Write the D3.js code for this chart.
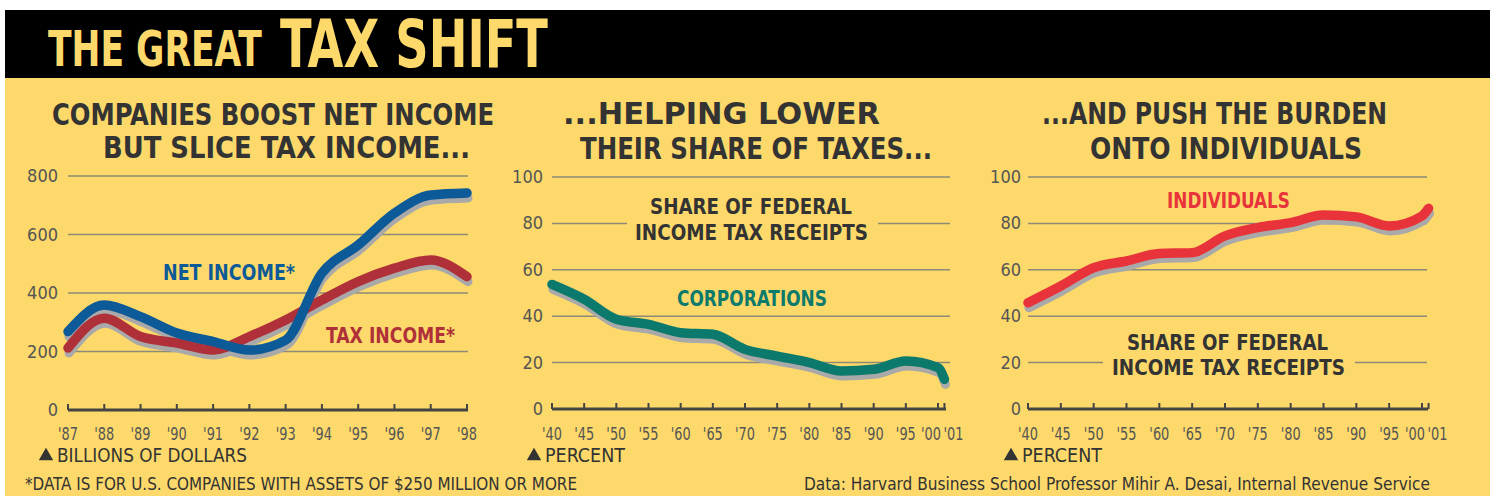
<!DOCTYPE html>
<html>
<head>
<meta charset="utf-8">
<script src="https://cdn.jsdelivr.net/npm/d3@7"></script>
<style>
  body { margin: 0; background: #fff; }
  svg { display: block; }
  text { font-family: "Liberation Sans Narrow", "DejaVu Sans Condensed", sans-serif; }
</style>
</head>
<body>
<svg id="chart" width="1490" height="498"></svg>
<script>
// --- data ---
var yearsA = [1987, 1988, 1989, 1990, 1991, 1992, 1993, 1994, 1995, 1996, 1997, 1998];
var netIncome = [268, 359, 319, 263, 234, 205, 239, 468, 564, 673, 735, 742];
var taxIncome = [212, 314, 251, 229, 205, 251, 308, 376, 439, 485, 513, 456];

var yearsB = [1940, 1945, 1950, 1955, 1960, 1965, 1970, 1975, 1980, 1985, 1990, 1995, 2000, 2001];
var corporations = [53.7, 47.3, 38.7, 36.5, 32.9, 32.2, 25.7, 22.8, 20.0, 16.4, 17.1, 20.7, 17.8, 12.8];
var individuals = [45.8, 53.0, 60.9, 63.8, 67.0, 67.4, 74.6, 78.2, 80.3, 83.6, 82.8, 78.9, 83.2, 86.5];

var yTicksA = [0, 200, 400, 600, 800];
var yTicksB = [0, 20, 40, 60, 80, 100];
var tickLabelsA = ["'87", "'88", "'89", "'90", "'91", "'92", "'93", "'94", "'95", "'96", "'97", "'98"];
var tickLabelsB = ["'40", "'45", "'50", "'55", "'60", "'65", "'70", "'75", "'80", "'85", "'90", "'95", "'00", "'01"];

var yellow = "#fcd96a", ink = "#333", gridCol = "#8c8a78", shadow = "#a9a9a9";

var svg = d3.select("#chart");

// frame
svg.append("rect").attr("x", 5).attr("y", 10).attr("width", 1485).attr("height", 68).attr("fill", "#000");
svg.append("rect").attr("x", 5).attr("y", 78).attr("width", 1485).attr("height", 418).attr("fill", yellow);

// big title - squeezed with a transform so its box stays true
function squeezed(x, y, size, w, t) {
  var g = svg.append("g");
  var txt = g.append("text").attr("font-size", size).attr("font-weight", "bold").attr("fill", yellow).text(t);
  var natural = txt.node().getComputedTextLength();
  g.attr("transform", "translate(" + x + "," + y + ") scale(" + (w / natural) + ",1)");
}
squeezed(48, 66, 49, 214, "THE GREAT");
squeezed(280, 67, 66, 268, "TAX SHIFT");

function title(lines) {
  lines.forEach(function(l) {
    svg.append("text").attr("x", l.x).attr("y", l.y).attr("font-size", 31).attr("font-weight", "bold")
      .attr("fill", ink).attr("textLength", l.w).attr("lengthAdjust", "spacingAndGlyphs").text(l.t);
  });
}

function label(x, y, w, t, col, size) {
  return svg.append("text").attr("x", x).attr("y", y).attr("font-size", size || 22).attr("font-weight", "bold")
    .attr("fill", col).attr("textLength", w).attr("lengthAdjust", "spacingAndGlyphs").text(t);
}

function panel(p) {
  var g = svg.append("g");
  var x = p.x, y = p.y;

  // gridlines
  g.selectAll(".grid").data(p.yTicks.filter(function(d) { return d > 0; })).enter().append("line")
    .attr("x1", p.gx0).attr("x2", p.gx1)
    .attr("y1", function(d) { return y(d); }).attr("y2", function(d) { return y(d); })
    .attr("stroke", gridCol).attr("stroke-width", 1.5);

  // y labels
  g.selectAll(".ylab").data(p.yTicks).enter().append("text")
    .attr("x", p.ylabX).attr("y", function(d) { return y(d) + 6; })
    .attr("text-anchor", "end").attr("font-size", 18).attr("fill", "#555")
    .text(function(d) { return d; });

  // x axis
  g.append("line").attr("x1", p.gx0).attr("x2", p.ax1).attr("y1", y(0)).attr("y2", y(0))
    .attr("stroke", "#444").attr("stroke-width", 3);
  g.selectAll(".tick").data(p.years).enter().append("line")
    .attr("x1", function(d) { return x(d); }).attr("x2", function(d) { return x(d); })
    .attr("y1", y(0)).attr("y2", y(0) - 6)
    .attr("stroke", "#444").attr("stroke-width", 2);
  g.selectAll(".xlab").data(p.years).enter().append("text")
    .attr("x", function(d, i) { return x(d) + (p.shift ? p.shift[i] : 0); })
    .attr("y", 440).attr("text-anchor", "middle").attr("font-size", 17).attr("fill", "#555")
    .attr("textLength", 20).attr("lengthAdjust", "spacingAndGlyphs")
    .text(function(d, i) { return p.tickLabels[i]; });

  // series
  var line = d3.line().x(function(d) { return x(d[0]); }).y(function(d) { return y(d[1]); })
    .curve(d3.curveMonotoneX);
  p.series.forEach(function(s) {
    var pts = p.years.map(function(yr, i) { return [yr, s.values[i]]; });
    g.append("path").attr("d", line(pts)).attr("fill", "none").attr("stroke", shadow)
      .attr("stroke-width", 9).attr("stroke-linecap", "round").attr("stroke-linejoin", "round")
      .attr("transform", "translate(1,5)");
  });
  p.series.forEach(function(s) {
    var pts = p.years.map(function(yr, i) { return [yr, s.values[i]]; });
    g.append("path").attr("d", line(pts)).attr("fill", "none").attr("stroke", s.color)
      .attr("stroke-width", 9.5).attr("stroke-linecap", "round").attr("stroke-linejoin", "round");
  });

  // unit note
  svg.append("path").attr("d", d3.symbol().type(d3.symbolTriangle).size(90)())
    .attr("transform", "translate(" + (p.noteX + 6) + ",456)").attr("fill", ink);
  svg.append("text").attr("x", p.noteX + 17).attr("y", 462).attr("font-size", 19).attr("fill", ink)
    .attr("textLength", p.noteW).attr("lengthAdjust", "spacingAndGlyphs")
    .text(p.note);
}

var lastShift = [0, 0, 0, 0, 0, 0, 0, 0, 0, 0, 0, 0, -7, 9];

// panel 1
var xA = d3.scaleLinear().domain([1987, 1998]).range([68, 467]);
var yA = d3.scaleLinear().domain([0, 800]).range([410, 176]);
title([{x: 52, y: 125, w: 442, t: "COMPANIES BOOST NET INCOME"}, {x: 103, y: 158, w: 367, t: "BUT SLICE TAX INCOME..."}]);
panel({x: xA, y: yA, years: yearsA, yTicks: yTicksA, tickLabels: tickLabelsA, gx0: 68, gx1: 468, ax1: 468,
  ylabX: 58, noteX: 40, note: "BILLIONS OF DOLLARS", noteW: 190,
  series: [{values: taxIncome, color: "#b0303a"}, {values: netIncome, color: "#0c5a98"}]});
label(163, 280, 132, "NET INCOME*", "#0c5a98");
label(326, 343, 129, "TAX INCOME*", "#b0303a");

// panel 2
var xB = d3.scaleLinear().domain([1940, 2000]).range([552, 938]);
var yB = d3.scaleLinear().domain([0, 100]).range([409, 177]);
title([{x: 563, y: 124, w: 317, t: "...HELPING LOWER"}, {x: 580, y: 159, w: 352, t: "THEIR SHARE OF TAXES..."}]);
panel({x: xB, y: yB, years: yearsB, yTicks: yTicksB, tickLabels: tickLabelsB, gx0: 552, gx1: 950, ax1: 946,
  ylabX: 543, noteX: 528, note: "PERCENT", noteW: 80, shift: lastShift,
  series: [{values: corporations, color: "#0b7a6c"}]});
svg.append("rect").attr("x", 627).attr("y", 212).attr("width", 251).attr("height", 20).attr("fill", yellow);
label(650, 214, 202, "SHARE OF FEDERAL", ink);
label(635, 240, 233, "INCOME TAX RECEIPTS", ink);
label(677, 306, 150, "CORPORATIONS", "#0b7a6c");

// panel 3
var xC = d3.scaleLinear().domain([1940, 2000]).range([1028, 1422]);
var yC = d3.scaleLinear().domain([0, 100]).range([409, 177]);
title([{x: 1042, y: 124, w: 345, t: "...AND PUSH THE BURDEN"}, {x: 1090, y: 159, w: 272, t: "ONTO INDIVIDUALS"}]);
panel({x: xC, y: yC, years: yearsB, yTicks: yTicksB, tickLabels: tickLabelsB, gx0: 1028, gx1: 1427, ax1: 1428,
  ylabX: 1021, noteX: 1005, note: "PERCENT", noteW: 80, shift: lastShift,
  series: [{values: individuals, color: "#e8333b"}]});
svg.append("rect").attr("x", 1103).attr("y", 354).attr("width", 252).attr("height", 20).attr("fill", yellow);
label(1127, 350, 201, "SHARE OF FEDERAL", ink);
label(1112, 375, 233, "INCOME TAX RECEIPTS", ink);
label(1167, 208, 123, "INDIVIDUALS", "#e8333b", 21);

// footer
svg.append("text").attr("x", 25).attr("y", 490).attr("font-size", 17).attr("fill", ink)
  .attr("textLength", 552).attr("lengthAdjust", "spacingAndGlyphs")
  .text("*DATA IS FOR U.S. COMPANIES WITH ASSETS OF $250 MILLION OR MORE");
svg.append("text").attr("x", 804).attr("y", 490).attr("font-size", 17).attr("fill", ink)
  .attr("textLength", 626).attr("lengthAdjust", "spacingAndGlyphs")
  .text("Data: Harvard Business School Professor Mihir A. Desai, Internal Revenue Service");
</script>
</body>
</html>
